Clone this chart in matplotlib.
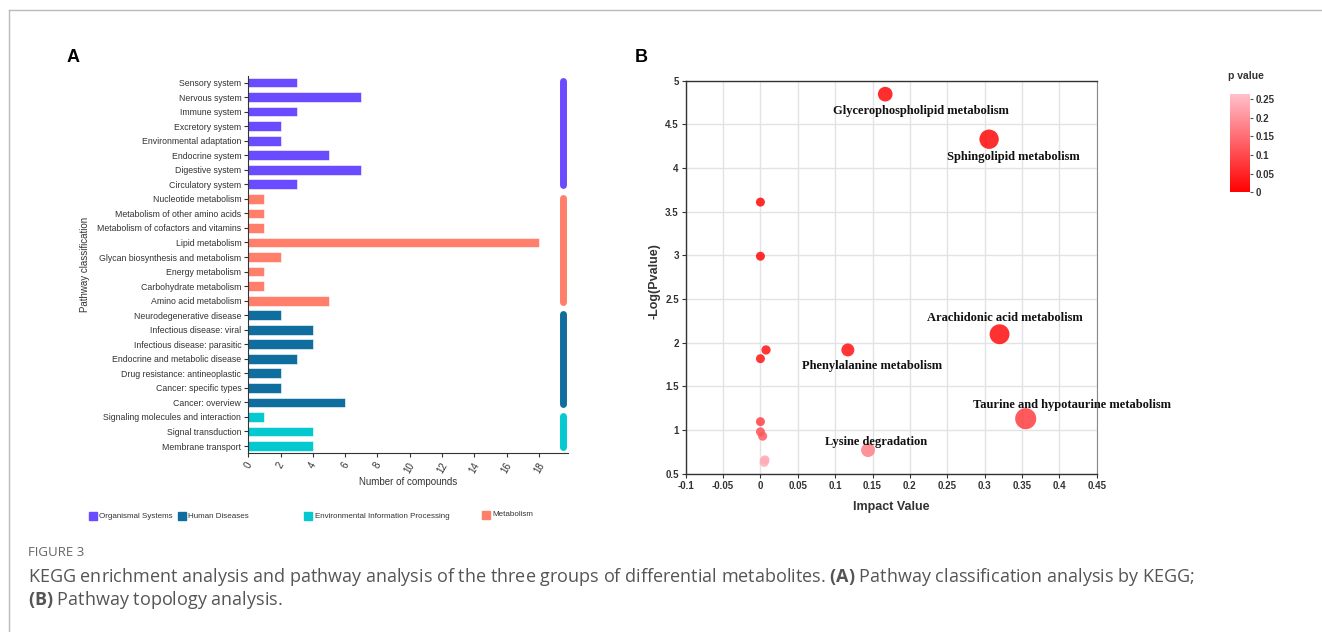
import numpy as np
import matplotlib
matplotlib.use("Agg")
import matplotlib.pyplot as plt
from matplotlib.colors import LinearSegmentedColormap, Normalize
from matplotlib.cm import ScalarMappable
from matplotlib.patches import Rectangle
from matplotlib.lines import Line2D

# --- Painel A: classificação KEGG ---
categorias = [
    'Sensory system', 'Nervous system', 'Immune system', 'Excretory system',
    'Environmental adaptation', 'Endocrine system', 'Digestive system', 'Circulatory system',
    'Nucleotide metabolism', 'Metabolism of other amino acids',
    'Metabolism of cofactors and vitamins', 'Lipid metabolism',
    'Glycan biosynthesis and metabolism', 'Energy metabolism',
    'Carbohydrate metabolism', 'Amino acid metabolism',
    'Neurodegenerative disease', 'Infectious disease: viral', 'Infectious disease: parasitic',
    'Endocrine and metabolic disease', 'Drug resistance: antineoplastic',
    'Cancer: specific types', 'Cancer: overview',
    'Signaling molecules and interaction', 'Signal transduction', 'Membrane transport',
]
n_compostos = [3, 7, 3, 2, 2, 5, 7, 3,
               1, 1, 1, 18, 2, 1, 1, 5,
               2, 4, 4, 3, 2, 2, 6,
               1, 4, 4]
grupos = (['Organismal Systems'] * 8 + ['Metabolism'] * 8 +
          ['Human Diseases'] * 7 + ['Environmental Information Processing'] * 3)
ordem_legenda = ['Organismal Systems', 'Human Diseases',
                 'Environmental Information Processing', 'Metabolism']

# --- Painel B: análise de topologia ---
impacto = [0.167, 0.306, 0.0, 0.0, 0.320, 0.117, 0.0075, 0.0, 0.355,
           0.0, 0.0, 0.003, 0.144, 0.006, 0.005]
menos_log_p = [4.846, 4.33, 3.61, 2.99, 2.097, 1.917, 1.917, 1.817, 1.13,
               1.096, 0.98, 0.93, 0.77, 0.657, 0.63]
vias_rotulo = ['Glycerophospholipid metabolism', 'Sphingolipid metabolism',
               'Arachidonic acid metabolism', 'Phenylalanine metabolism',
               'Taurine and hypotaurine metabolism', 'Lysine degradation']
x_rotulo = [0.215, 0.339, 0.327, 0.149, 0.417, 0.155]
y_rotulo = [4.655, 4.124, 2.28, 1.737, 1.287, 0.867]

cores = {'Organismal Systems': '#6a4bff', 'Metabolism': '#ff7f6b',
         'Human Diseases': '#106e9f', 'Environmental Information Processing': '#04c9cf'}

plt.rcParams['mathtext.fontset'] = 'custom'
plt.rcParams['mathtext.bf'] = 'Open Sans:bold'

W, H = 1322, 632
fig = plt.figure(figsize=(W / 100, H / 100), dpi=100)
sans = 'Liberation Sans'

def px(x0, y0, x1, y1):
    return [x0 / W, 1 - y1 / H, (x1 - x0) / W, (y1 - y0) / H]

# moldura cinza
fig.add_artist(Line2D([9 / W, 9 / W], [0, 1 - 10 / H], color='#bbbbbb', lw=1))
fig.add_artist(Line2D([9 / W, 1], [1 - 10 / H, 1 - 10 / H], color='#bbbbbb', lw=1))

# ---------- A ----------
axA = fig.add_axes(px(248.3, 75.7, 567.7, 453.3))
y = np.arange(len(categorias))
cor_barras = [cores[g] for g in grupos]
axA.barh(y, n_compostos, height=0.67, color=cor_barras, edgecolor='white', linewidth=0.4)
axA.set_ylim(25.5, -0.47)
axA.set_xlim(0, 19.78)
axA.set_yticks(y)
axA.set_yticklabels(categorias, fontsize=6.3, family=sans, color='#333333')
axA.set_xticks(np.arange(0, 19, 2))
axA.set_xticklabels([str(v) for v in range(0, 19, 2)], rotation=60, ha='center',
                    fontsize=7, family=sans, color='#333333')
axA.tick_params(length=3, width=0.8, color='#333333', pad=2)
for s in ['top', 'right']:
    axA.spines[s].set_visible(False)
for s in ['left', 'bottom']:
    axA.spines[s].set_color('#333333')
    axA.spines[s].set_linewidth(0.8)

# barras laterais dos grupos
for g in ordem_legenda:
    idx = [i for i, gg in enumerate(grupos) if gg == g]
    axA.plot([19.49, 19.49], [min(idx) - 0.08, max(idx) + 0.08], color=cores[g],
             lw=5, solid_capstyle='round', clip_on=False)

axA.text(-0.511, 0.5, 'Pathway classification', transform=axA.transAxes, rotation=90,
         ha='center', va='center', fontsize=7, family=sans, color='#333333')
axA.text(0.499, -0.076, 'Number of compounds', transform=axA.transAxes,
         ha='center', va='center', fontsize=7, family=sans, color='#333333')

# legenda manual
leg_x = [92.8, 181.5, 308.3, 486]
leg_y = [516, 516, 516, 514.5]
for g, lx, ly in zip(ordem_legenda, leg_x, leg_y):
    fig.add_artist(Rectangle(((lx - 4) / W, 1 - (ly + 4) / H), 8 / W, 8 / H,
                             color=cores[g], transform=fig.transFigure))
    fig.text((lx + 6.5) / W, 1 - ly / H, g, fontsize=5.8, family=sans,
             color='#333333', ha='left', va='center')

# ---------- B ----------
axB = fig.add_axes(px(685.7, 80.7, 1096.7, 473.7))
cmap = LinearSegmentedColormap.from_list('pv', ['#ff0000', '#ffc0cb'])
norma = Normalize(0, 0.263)
imp = np.array(impacto)
nlp = np.array(menos_log_p)
pval = 10 ** (-nlp)
diam = 9 + 34 * imp  # diâmetro em px proporcional ao impacto
axB.scatter(imp, nlp, s=(diam * 0.72) ** 2, c=pval, cmap=cmap, norm=norma,
            alpha=0.82, edgecolors='none', zorder=3)
axB.set_xlim(-0.1, 0.45)
axB.set_ylim(0.5, 5)
axB.set_xticks(np.arange(-0.1, 0.451, 0.05))
axB.set_xticklabels(['-0.1', '-0.05', '0', '0.05', '0.1', '0.15', '0.2', '0.25',
                     '0.3', '0.35', '0.4', '0.45'])
axB.set_yticks(np.arange(0.5, 5.01, 0.5))
axB.set_yticklabels(['0.5', '1', '1.5', '2', '2.5', '3', '3.5', '4', '4.5', '5'])
for lab in axB.get_xticklabels() + axB.get_yticklabels():
    lab.set_fontsize(7)
    lab.set_fontweight('bold')
    lab.set_family(sans)
    lab.set_color('#333333')
axB.tick_params(length=3, width=0.8, color='#333333', pad=2)
axB.grid(True, color='#e3e3e3', lw=1)
axB.set_axisbelow(True)
for s in ['left', 'bottom', 'top']:
    axB.spines[s].set_color('#333333')
    axB.spines[s].set_linewidth(1)
axB.spines['right'].set_color('#888888')

for nome, tx, ty in zip(vias_rotulo, x_rotulo, y_rotulo):
    axB.text(tx, ty, nome, ha='center', va='center', fontsize=9, fontweight='bold',
             family='Liberation Serif', color='#111111', zorder=4)

axB.text(-0.075, 0.49, '-Log(Pvalue)', transform=axB.transAxes, rotation=90,
         ha='center', va='center', fontsize=9, fontweight='bold', family=sans, color='#333333')
axB.text(0.4995, -0.0855, 'Impact Value', transform=axB.transAxes,
         ha='center', va='center', fontsize=9, fontweight='bold', family=sans, color='#333333')

cax = fig.add_axes(px(1230, 94.3, 1250, 192.3))
cb = fig.colorbar(ScalarMappable(norm=norma, cmap=cmap), cax=cax)
cb.outline.set_visible(False)
cb.set_ticks([0, 0.05, 0.1, 0.15, 0.2, 0.25])
cb.set_ticklabels(['0', '0.05', '0.1', '0.15', '0.2', '0.25'])
cax.tick_params(length=2.5, width=0.8, color='#555555', pad=1.5)
for lab in cax.get_yticklabels():
    lab.set_fontsize(7)
    lab.set_fontweight('bold')
    lab.set_family(sans)
    lab.set_color('#333333')
fig.text(1246 / W, 1 - 76 / H, 'p value', ha='center', va='center', fontsize=7.5,
         fontweight='bold', family=sans, color='#333333')

# letras dos painéis
fig.text(73 / W, 1 - 57 / H, 'A', ha='center', va='center', fontsize=13,
         fontweight='bold', family=sans)
fig.text(641 / W, 1 - 57 / H, 'B', ha='center', va='center', fontsize=13,
         fontweight='bold', family=sans)

# legenda da figura
fig.text(28 / W, 1 - 553 / H, 'FIGURE 3', ha='left', va='center', fontsize=9.5,
         family='Open Sans', color='#666666')
fig.text(28 / W, 1 - 577 / H,
         'KEGG enrichment analysis and pathway analysis of the three groups of differential '
         'metabolites. $\\bf{(A)}$ Pathway classification analysis by KEGG;',
         ha='left', va='center', fontsize=13, family='Open Sans', color='#555555')
fig.text(28 / W, 1 - 600 / H, '$\\bf{(B)}$ Pathway topology analysis.',
         ha='left', va='center', fontsize=13, family='Open Sans', color='#555555')

plt.savefig('out.png', dpi=100)
